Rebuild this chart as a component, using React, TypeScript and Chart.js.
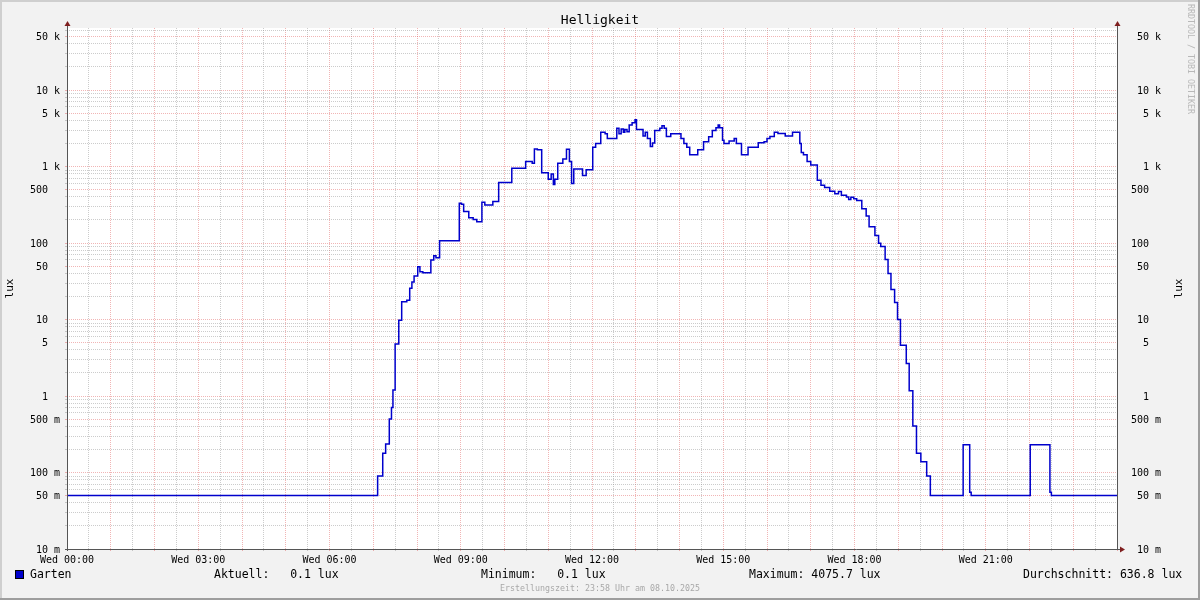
import { useEffect, useRef } from 'react';
import { Chart, registerables } from 'chart.js';

Chart.register(...registerables);

// ---- data (minutes since 00:00, lux) ----
const sampleMinutes: number[] = [
  0, 426, 433, 437, 442, 445, 447, 450, 455, 459,
  466, 470, 473, 476, 481, 484, 488, 499, 503, 506,
  511, 538, 541, 544, 551, 557, 562, 569, 573, 584,
  592, 610, 629, 638, 641, 645, 651, 660, 664, 667,
  669, 673, 680, 685, 689, 692, 695, 707, 712, 721,
  725, 732, 738, 741, 754, 757, 760, 763, 765, 768,
  771, 775, 779, 781, 790, 793, 796, 800, 803, 806,
  813, 816, 819, 822, 828, 842, 846, 850, 854, 865,
  873, 880, 885, 890, 893, 895, 899, 901, 908, 915,
  918, 925, 934, 948, 956, 960, 964, 970, 975, 985,
  995, 1005, 1007, 1010, 1015, 1020, 1029, 1034, 1039, 1046,
  1053, 1058, 1062, 1069, 1072, 1075, 1079, 1083, 1090, 1096,
  1100, 1108, 1113, 1116, 1122, 1126, 1130, 1135, 1139, 1143,
  1151, 1155, 1160, 1165, 1171, 1179, 1184, 1229, 1238, 1240,
  1321, 1348, 1350, 1440,
];

const luxValues: number[] = [
  0.05, 0.09, 0.178, 0.236, 0.5, 0.71, 1.2, 4.8, 9.8, 17,
  17.9, 25.6, 31, 37, 49, 42, 41, 60, 68, 64,
  107, 330, 320, 258, 214, 203, 190, 340, 315, 350,
  620, 950, 1160, 1100, 1700, 1650, 830, 680, 800, 580,
  680, 1100, 1250, 1680, 1160, 600, 930, 760, 910, 1790,
  2000, 2800, 2680, 2330, 3160, 2680, 3100, 2800, 3050, 2850,
  3480, 3740, 4076, 3050, 2500, 2800, 2330, 1830, 2030, 2950,
  3160, 3400, 3160, 2470, 2680, 2330, 2000, 1790, 1420, 1660,
  2100, 2450, 2950, 3200, 3500, 3200, 2200, 2000, 2150, 2330,
  2000, 1420, 1790, 2050, 2100, 2330, 2470, 2800, 2700, 2500,
  2800, 2000, 1520, 1420, 1160, 1050, 660, 570, 530, 475,
  440, 470, 420, 400, 370, 395, 380, 360, 280, 225,
  163, 125, 99, 90, 61, 40, 24.7, 16.7, 10, 4.6,
  2.65, 1.17, 0.405, 0.178, 0.138, 0.09, 0.05, 0.23, 0.055, 0.05,
  0.23, 0.055, 0.05, 0.05,
];

const chartTitle = 'Helligkeit';
const axisTitle = 'lux';
const dayLabel = 'Wed';
const seriesName = 'Garten';
const legendStats: string[] = [
  'Aktuell:   0.1 lux',
  'Minimum:   0.1 lux',
  'Maximum: 4075.7 lux',
  'Durchschnitt: 636.8 lux',
];
const footerText = 'Erstellungszeit: 23:58 Uhr am 08.10.2025';
const watermarkText = 'RRDTOOL / TOBI OETIKER';

const X_MIN = 0;
const X_MAX = 1440;
const Y_MIN = 0.01;
const Y_MAX = 64650;

// ---- styles ----
const FONT = "'DejaVu Sans Mono', monospace";
const BACK = '#f2f2f2';
const GRID = 'rgba(143,143,143,0.45)';
const MGRID = 'rgba(222,79,79,0.42)';
const AXIS = '#555555';
const ARROW = '#7f1f1f';
const LINE = '#0000cc';

function yTickValues(): number[] {
  const out: number[] = [];
  for (let k = -2; k <= 4; k++) {
    for (let m = 1; m <= 9; m++) {
      const v = Number((m * Math.pow(10, k)).toPrecision(6));
      if (v >= Y_MIN && v <= Y_MAX) out.push(v);
    }
  }
  return out;
}

function mantissa(v: number): number {
  const e = Math.floor(Math.log10(v) + 1e-9);
  return Math.round(v / Math.pow(10, e));
}

function yLabel(v: number): string {
  const m = mantissa(v);
  if (m !== 1 && m !== 5) return '';
  if (v < 1) return `${Math.round(v * 1000)} m`;
  if (v < 1000) return `${Math.round(v)}  `;
  return `${Math.round(v / 1000)} k`;
}

function xLabel(v: number): string {
  if (v % 180 !== 0 || v >= X_MAX) return '';
  const h = Math.round(v / 60);
  return `${dayLabel} ${String(h).padStart(2, '0')}:00`;
}

const decorPlugin = {
  id: 'rrdDecor',
  beforeDraw(chart: any) {
    const { ctx, chartArea: a } = chart;
    ctx.save();
    ctx.fillStyle = BACK;
    ctx.fillRect(0, 0, chart.width, chart.height);
    ctx.fillStyle = '#ffffff';
    ctx.fillRect(a.left, a.top, a.right - a.left, a.bottom - a.top);
    ctx.restore();
  },
  afterDraw(chart: any) {
    const { ctx, chartArea: a } = chart;
    const W = chart.width;
    const H = chart.height;
    ctx.save();

    // axes
    ctx.strokeStyle = AXIS;
    ctx.lineWidth = 1;
    ctx.beginPath();
    ctx.moveTo(Math.round(a.left) + 0.5, a.top - 3);
    ctx.lineTo(Math.round(a.left) + 0.5, a.bottom + 2);
    ctx.moveTo(Math.round(a.left) - 2, Math.round(a.bottom) + 0.5);
    ctx.lineTo(Math.round(a.right) + 3, Math.round(a.bottom) + 0.5);
    ctx.moveTo(Math.round(a.right) + 0.5, a.top - 3);
    ctx.lineTo(Math.round(a.right) + 0.5, a.bottom);
    ctx.stroke();

    // arrows
    ctx.fillStyle = ARROW;
    const upArrow = (x: number) => {
      ctx.beginPath();
      ctx.moveTo(x - 3, a.top - 2);
      ctx.lineTo(x + 3, a.top - 2);
      ctx.lineTo(x, a.top - 7);
      ctx.closePath();
      ctx.fill();
    };
    upArrow(Math.round(a.left) + 0.5);
    upArrow(Math.round(a.right) + 0.5);
    const by = Math.round(a.bottom) + 0.5;
    ctx.beginPath();
    ctx.moveTo(a.right + 3, by - 3);
    ctx.lineTo(a.right + 3, by + 3);
    ctx.lineTo(a.right + 8, by);
    ctx.closePath();
    ctx.fill();

    // title
    ctx.fillStyle = '#000';
    ctx.textBaseline = 'alphabetic';
    ctx.textAlign = 'center';
    ctx.font = `13px ${FONT}`;
    ctx.fillText(chartTitle, W / 2, 23.5);

    // axis titles
    ctx.textBaseline = 'middle';
    ctx.font = `11px ${FONT}`;
    for (const x of [10, 1179]) {
      ctx.save();
      ctx.translate(x, (a.top + a.bottom) / 2);
      ctx.rotate(-Math.PI / 2);
      ctx.textAlign = 'center';
      ctx.fillText(axisTitle, 0, 0);
      ctx.restore();
    }

    // watermark
    ctx.save();
    ctx.fillStyle = '#b8b8b8';
    ctx.font = `8.3px ${FONT}`;
    ctx.translate(1190, 4);
    ctx.rotate(Math.PI / 2);
    ctx.textAlign = 'left';
    ctx.fillText(watermarkText, 0, 0);
    ctx.restore();

    // legend
    ctx.fillStyle = LINE;
    ctx.fillRect(15, 570, 9, 9);
    ctx.strokeStyle = '#000';
    ctx.strokeRect(15.5, 570.5, 8, 8);
    ctx.fillStyle = '#000';
    ctx.font = `11.5px ${FONT}`;
    ctx.textAlign = 'left';
    ctx.fillText(seriesName, 30, 575.5);
    const xs = [214, 481, 749, 1023];
    legendStats.forEach((s, i) => ctx.fillText(s, xs[i], 575.5));

    // footer
    ctx.fillStyle = '#a8a8a8';
    ctx.font = `8.3px ${FONT}`;
    ctx.textAlign = 'center';
    ctx.fillText(footerText, W / 2, 589);

    // frame
    ctx.fillStyle = '#cfcfcf';
    ctx.fillRect(0, 0, W, 2);
    ctx.fillRect(0, 0, 2, H);
    ctx.fillStyle = '#9e9e9e';
    ctx.fillRect(0, H - 2, W, 2);
    ctx.fillRect(W - 2, 0, 2, H);

    ctx.restore();
  },
};

export default function App() {
  const canvasRef = useRef<HTMLCanvasElement>(null);

  useEffect(() => {
    document.body.style.margin = '0';
    const canvas = canvasRef.current;
    if (!canvas) return;
    Chart.defaults.font.family = FONT;

    const points = sampleMinutes.map((m, i) => ({ x: m, y: luxValues[i] }));
    const yTicks = yTickValues();

    const yGridColor = (c: any) => {
      const v = c.tick?.value;
      if (!v) return GRID;
      const m = mantissa(v);
      return m === 1 || m === 5 ? MGRID : GRID;
    };
    const xGridColor = (c: any) => (c.tick && c.tick.value % 60 === 0 ? MGRID : GRID);

    const chart = new Chart(canvas, {
      type: 'line',
      data: {
        datasets: [
          {
            label: seriesName,
            data: points,
            borderColor: LINE,
            borderWidth: 1.5,
            pointRadius: 0,
            stepped: true,
            fill: false,
            yAxisID: 'y',
          },
        ],
      },
      options: {
        animation: false,
        responsive: false,
        devicePixelRatio: 1,
        parsing: false as any,
        layout: { padding: { left: 0, right: 39, top: 28, bottom: 0 } },
        plugins: {
          legend: { display: false },
          title: { display: false },
          tooltip: { enabled: false },
        },
        scales: {
          x: {
            type: 'linear',
            min: X_MIN,
            max: X_MAX,
            afterBuildTicks: (s: any) => {
              const t = [];
              for (let v = X_MIN; v <= X_MAX; v += 30) t.push({ value: v });
              s.ticks = t;
            },
            afterFit: (s: any) => {
              s.height = 51;
            },
            ticks: {
              autoSkip: false,
              maxRotation: 0,
              minRotation: 0,
              padding: 3,
              color: '#000',
              font: { size: 10, family: FONT },
              callback: (v: any) => xLabel(Number(v)),
            },
            grid: {
              color: xGridColor,
              tickColor: xGridColor,
              lineWidth: 1,
              tickLength: 2,
            },
            border: { display: false, dash: [1, 1] },
          },
          y: {
            type: 'logarithmic',
            position: 'left',
            min: Y_MIN,
            max: Y_MAX,
            afterBuildTicks: (s: any) => {
              s.ticks = yTicks.map((v) => ({ value: v }));
            },
            afterFit: (s: any) => {
              s.width = 67;
            },
            ticks: {
              autoSkip: false,
              padding: 5,
              labelOffset: 1,
              color: '#000',
              font: { size: 10, family: FONT },
              callback: (v: any) => yLabel(Number(v)),
            },
            grid: {
              color: yGridColor,
              tickColor: yGridColor,
              lineWidth: 1,
              tickLength: 2,
            },
            border: { display: false, dash: [1, 1] },
          },
          y2: {
            type: 'logarithmic',
            position: 'right',
            min: Y_MIN,
            max: Y_MAX,
            afterBuildTicks: (s: any) => {
              s.ticks = yTicks.map((v) => ({ value: v }));
            },
            afterFit: (s: any) => {
              s.width = 44;
            },
            ticks: {
              autoSkip: false,
              padding: 5,
              labelOffset: 1,
              crossAlign: 'far',
              color: '#000',
              font: { size: 10, family: FONT },
              callback: (v: any) => yLabel(Number(v)),
            },
            grid: { display: false, drawOnChartArea: false },
            border: { display: false },
          },
        },
      } as any,
      plugins: [decorPlugin],
    });

    return () => chart.destroy();
  }, []);

  return (
    <div style={{ position: 'absolute', left: 0, top: 0, width: 1200, height: 600 }}>
      <canvas ref={canvasRef} width={1200} height={600} style={{ display: 'block' }} />
    </div>
  );
}
